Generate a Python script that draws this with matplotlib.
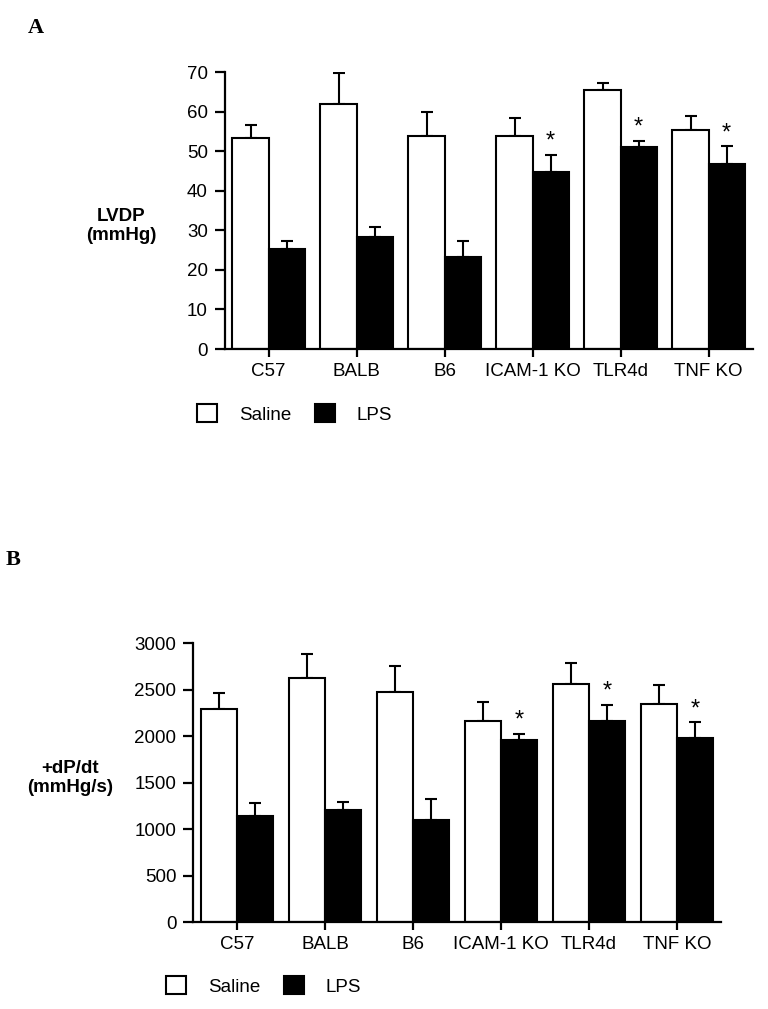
import matplotlib
matplotlib.use('Agg')
import matplotlib.pyplot as plt
from matplotlib.patches import Patch
import numpy as np

# Data setup
strains = ['C57', 'BALB', 'B6', 'ICAM-1 KO', 'TLR4d', 'TNF KO']

lvdp_saline = [53.4, 61.8, 53.8, 53.8, 65.5, 55.4]
lvdp_saline_err = [3.1, 7.9, 6.2, 4.6, 1.7, 3.6]
lvdp_lps = [25.3, 28.2, 23.3, 44.8, 51.1, 46.7]
lvdp_lps_err = [2.0, 2.6, 4.0, 4.3, 1.5, 4.5]

dpdt_saline = [2287, 2621, 2477, 2164, 2557, 2348]
dpdt_saline_err = [176, 263, 278, 198, 223, 198]
dpdt_lps = [1145, 1206, 1102, 1959, 2164, 1981]
dpdt_lps_err = [130, 87, 216, 68, 173, 165]

# which LPS groups are marked significant
signif = [False, False, False, True, True, True]

plt.rcParams['font.family'] = ['Liberation Sans', 'DejaVu Sans']
FS = 13.5

fig = plt.figure(figsize=(7.68, 10.09), dpi=100)
axA = fig.add_axes([0.2924, 0.6541, 0.6875, 0.2745])
axB = fig.add_axes([0.2513, 0.0862, 0.6875, 0.2765])

x = np.arange(len(strains))
width = 0.41


def draw_panel(ax, sal, sal_err, lps, lps_err, ymax, step):
    ax.bar(x - width / 2, sal, width, color='white', edgecolor='black', linewidth=1.5, zorder=2)
    ax.bar(x + width / 2, lps, width, color='black', edgecolor='black', linewidth=1.5, zorder=2)
    z = np.zeros(len(x))
    ax.errorbar(x - width / 2, sal, yerr=[z, sal_err], fmt='none', ecolor='black',
                elinewidth=1.5, capsize=4.5, capthick=1.5, zorder=1)
    ax.errorbar(x + width / 2, lps, yerr=[z, lps_err], fmt='none', ecolor='black',
                elinewidth=1.5, capsize=4.5, capthick=1.5, zorder=1)
    # significance stars above the LPS error bars
    for i, s in enumerate(signif):
        if s:
            ax.annotate('*', xy=(x[i] + width / 2, lps[i] + lps_err[i]),
                        xytext=(0, 1.5), textcoords='offset points',
                        ha='center', va='bottom', fontsize=17)
    ax.set_xlim(-0.5, 5.5)
    ax.set_ylim(0, ymax)
    ax.set_yticks(np.arange(0, ymax + 1, step))
    ax.set_xticks(x)
    ax.set_xticklabels(strains)
    for sp in ['top', 'right']:
        ax.spines[sp].set_visible(False)
    for sp in ['left', 'bottom']:
        ax.spines[sp].set_linewidth(1.6)
    ax.tick_params(axis='y', length=7, width=1.6, pad=5, labelsize=FS)
    ax.tick_params(axis='x', length=5.8, width=1.6, pad=4, labelsize=FS)


draw_panel(axA, lvdp_saline, lvdp_saline_err, lvdp_lps, lvdp_lps_err, 70, 10)
draw_panel(axB, dpdt_saline, dpdt_saline_err, dpdt_lps, dpdt_lps_err, 3000, 500)

# Axis labels
fig.text(121 / 768, 1 - 226 / 1009, 'LVDP\n(mmHg)', ha='center', va='center',
         fontsize=FS, fontweight='bold')
fig.text(70 / 768, 1 - 778 / 1009, '+dP/dt\n(mmHg/s)', ha='center', va='center',
         fontsize=FS, fontweight='bold')

# Panel letters
fig.text(36 / 768, 1 - 28 / 1009, 'A', ha='center', va='center', fontsize=16,
         fontweight='bold', family=['Liberation Serif'])
fig.text(13 / 768, 1 - 560 / 1009, 'B', ha='center', va='center', fontsize=16,
         fontweight='bold', family=['Liberation Serif'])

# Legends
handles = [Patch(facecolor='white', edgecolor='black', linewidth=1.5, label='Saline'),
           Patch(facecolor='black', edgecolor='black', linewidth=1.5, label='LPS')]
for lx, ly in [(197, 414), (166, 986)]:
    fig.legend(handles=handles, loc='center left', bbox_to_anchor=(lx / 768, 1 - ly / 1009),
               ncol=2, frameon=False, fontsize=FS, handlelength=1.07, handleheight=1.07,
               handletextpad=1.15, columnspacing=1.3, borderpad=0, borderaxespad=0)

fig.savefig('out.png', dpi=100)
